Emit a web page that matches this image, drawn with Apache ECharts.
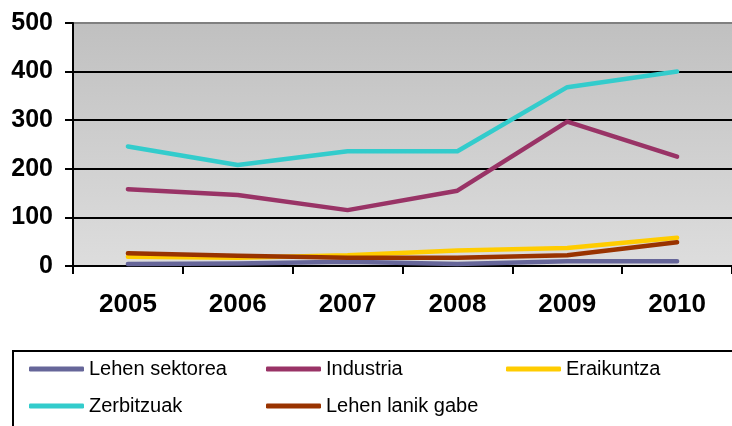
<!DOCTYPE html>
<html>
<head>
<meta charset="utf-8">
<script src="https://cdn.jsdelivr.net/npm/echarts@6/dist/echarts.min.js"></script>
<style>
  html, body { margin: 0; padding: 0; background: #fff; }
  #chart { width: 732px; height: 426px; }
</style>
</head>
<body>
<div id="chart"></div>
<script>
const years = ['2005', '2006', '2007', '2008', '2009', '2010']
const seriesNames = ['Lehen sektorea', 'Industria', 'Eraikuntza', 'Zerbitzuak', 'Lehen lanik gabe']
const lehenSektorea = [4, 5, 9, 4, 10, 10]
const industria = [158, 146, 115, 155, 297, 225]
const eraikuntza = [19, 17, 22, 32, 37, 58]
const zerbitzuak = [246, 208, 236, 236, 368, 400]
const lehenLanikGabe = [26, 21, 17, 17, 22, 49]
const yTicks = [0, 100, 200, 300, 400, 500]

const colors = ['#666699', '#993366', '#FFCC00', '#33CCCC', '#993300']
const values = [lehenSektorea, industria, eraikuntza, zerbitzuak, lehenLanikGabe]
const font = 'Arial, "Liberation Sans", sans-serif'

const chart = echarts.init(document.getElementById('chart'))

// legend slots (one legend per item so the columns line up like the original)
const legendPos = [
  { left: 29, top: 359 },
  { left: 266, top: 359 },
  { left: 506, top: 359 },
  { left: 29, top: 396 },
  { left: 266, top: 396 }
]

const option = {
  animation: false,
  grid: {
    left: 73,
    top: 23,
    width: 663,
    bottom: 160,
    show: true,
    borderWidth: 0,
    backgroundColor: new echarts.graphic.LinearGradient(0, 0, 0, 1, [
      { offset: 0, color: '#C0C0C0' },
      { offset: 1, color: '#DDDDDD' }
    ])
  },
  legend: seriesNames.map((name, i) => ({
    data: [name],
    left: legendPos[i].left,
    top: legendPos[i].top,
    padding: 0,
    icon: 'roundRect',
    itemWidth: 55,
    itemHeight: 5,
    textStyle: { fontFamily: font, fontSize: 20, color: '#000' }
  })),
  xAxis: {
    type: 'category',
    data: years,
    boundaryGap: true,
    axisLine: { lineStyle: { color: '#000', width: 2 } },
    axisTick: { show: true, length: 8, lineStyle: { color: '#000', width: 2 } },
    axisLabel: {
      margin: 26,
      fontFamily: font,
      fontSize: 26,
      fontWeight: 'bold',
      color: '#000'
    }
  },
  yAxis: {
    type: 'value',
    min: yTicks[0],
    max: yTicks[yTicks.length - 1],
    interval: 100,
    axisLine: { show: true, lineStyle: { color: '#000', width: 2 } },
    axisTick: { show: true, length: 8, lineStyle: { color: '#000', width: 2 } },
    axisLabel: {
      margin: 20,
      fontFamily: font,
      fontSize: 25,
      fontWeight: 'bold',
      color: '#000'
    },
    splitLine: {
      lineStyle: {
        color: ['#000', '#000', '#000', '#000', '#000', '#808080'],
        width: 2
      }
    }
  },
  graphic: [
    {
      type: 'rect',
      shape: { x: 13, y: 351, width: 740, height: 100 },
      style: { fill: 'none', stroke: '#000', lineWidth: 2 },
      z: 0
    }
  ],
  series: seriesNames.map((name, i) => ({
    name: name,
    type: 'line',
    data: values[i],
    symbol: 'none',
    color: colors[i],
    lineStyle: { width: 4.5, color: colors[i], cap: 'round', join: 'round' }
  }))
}

chart.setOption(option)
</script>
</body>
</html>
